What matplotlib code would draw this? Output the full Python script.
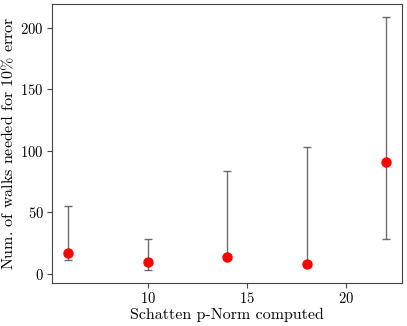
import numpy as np
import matplotlib
matplotlib.use('Agg')
import matplotlib.pyplot as plt

plt.rcParams['font.family'] = 'serif'
plt.rcParams['font.serif'] = ['cmr10']
plt.rcParams['mathtext.fontset'] = 'cm'
plt.rcParams['axes.formatter.use_mathtext'] = True

schatten_p = [6, 10, 14, 18, 22]
walks_median = [17, 10, 14, 8, 91]
walks_low = [11.5, 3, 13, 7, 28]
walks_high = [55, 28.5, 84, 103, 209]

median = np.array(walks_median)
yerr = [median - np.array(walks_low), np.array(walks_high) - median]

fig = plt.figure(figsize=(4.07, 3.26), dpi=100)
ax = fig.add_axes([0.128, 0.132, 0.86, 0.856])
ax.errorbar(schatten_p, walks_median, yerr=yerr, fmt='none', ecolor='#555555',
            elinewidth=1.0, capsize=3, capthick=1.0, alpha=0.85)
ax.plot(schatten_p, walks_median, 'o', color='red', markersize=6.5)

ax.set_xticks([10, 15, 20])
ax.set_yticks([0, 50, 100, 150, 200])
ax.tick_params(labelsize=10.5, color='#444444', pad=2.5)
for s in ax.spines.values():
    s.set_color('#444444')
ax.set_xlabel('Schatten p-Norm computed', fontsize=11.5, labelpad=1)
ax.set_ylabel(r'Num. of walks needed for 10$\%$ error', fontsize=11.5, labelpad=3)

fig.savefig('out.png', dpi=100)
